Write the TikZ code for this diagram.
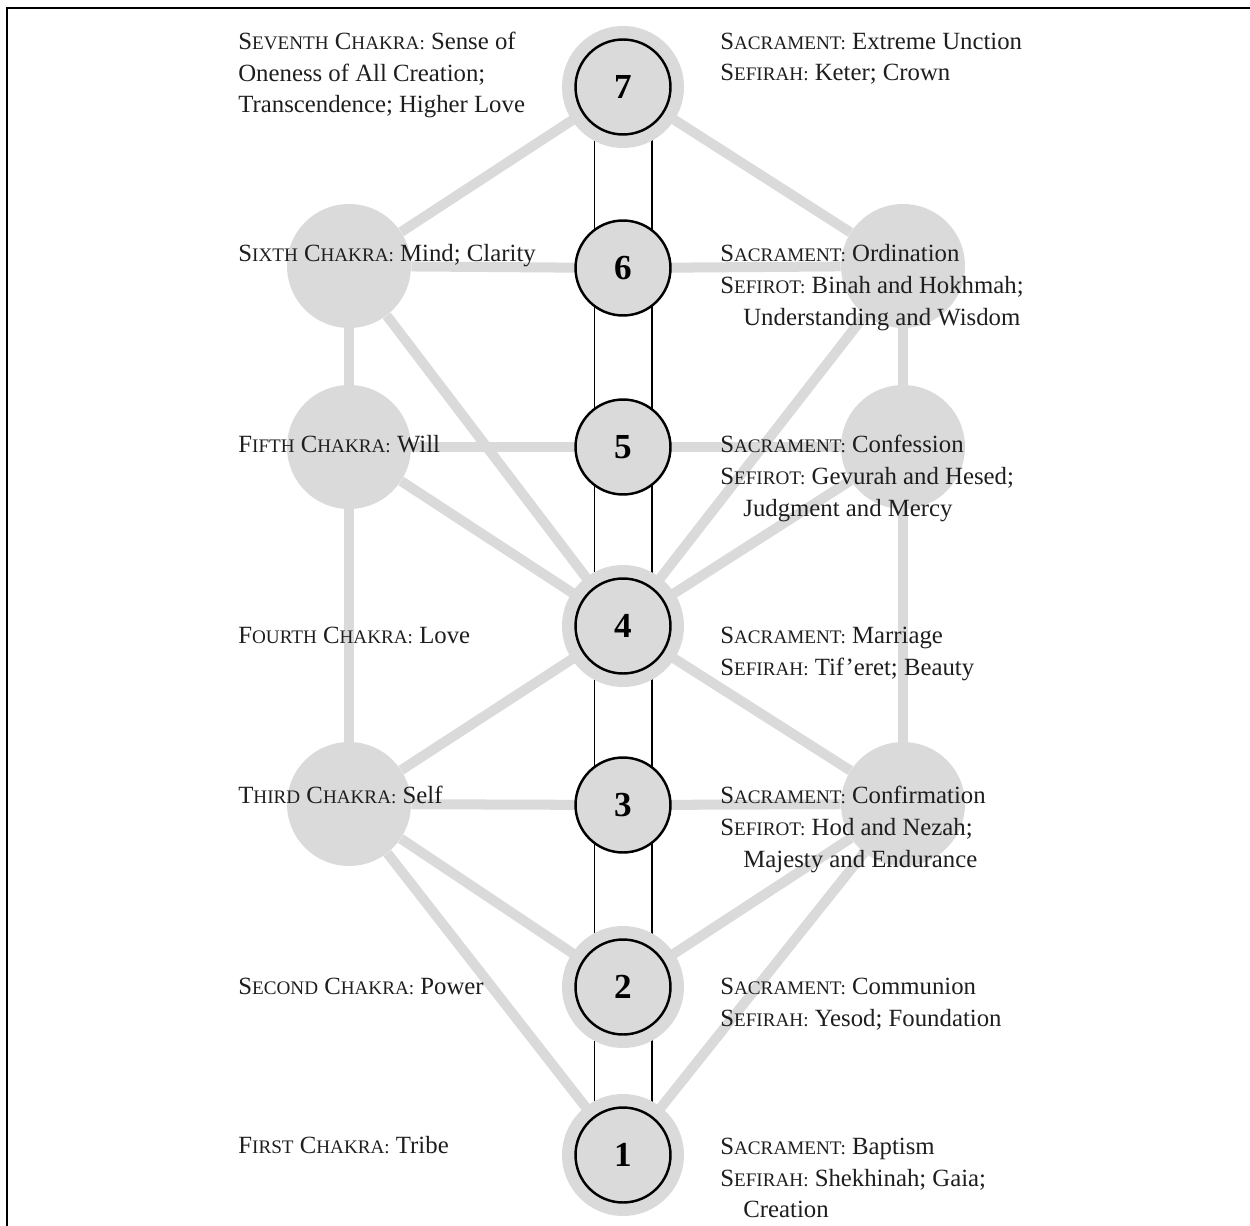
\documentclass[tikz,border=0pt]{standalone}
\usepackage{fontspec}
\setmainfont{Liberation Serif}
\definecolor{gr}{HTML}{DADADA}
\definecolor{ink}{HTML}{1E1E1E}
\newcommand\sk[2]{#1{\fontsize{10.9}{12}\selectfont #2}}
\tikzset{
  conn/.style={draw=gr, line width=5.7pt},
  side/.style={circle, fill=gr, minimum size=2.48cm, inner sep=0pt},
  ring/.style={circle, fill=gr, minimum size=2.44cm, inner sep=0pt},
  core/.style={circle, fill=gr, draw=black, line width=1.4pt, minimum size=1.9cm, inner sep=0pt,
    font=\fontsize{20}{22}\selectfont\bfseries},
  rail/.style={draw=black, line width=1.1pt},
  lab/.style={anchor=base west, inner sep=0pt, text=ink, font=\fontsize{14.1}{16}\selectfont},
  frame/.style={draw=black, line width=1.7pt}
}
\begin{document}
\begin{tikzpicture}[x=0.02cm, y=-0.02cm]
\useasboundingbox (0,0) rectangle (1250,1226);
\coordinate (ftl) at (7,8);
\coordinate (ftr) at (1250,8);
\coordinate (fbl) at (7,1226);
\draw[frame] (ftr) -- (ftl) -- (fbl);

% side circles
\node[side] (l6) at (349,266) {};
\node[side] (l5) at (349,447) {};
\node[side] (l3) at (349,804) {};
\node[side] (r6) at (903,266) {};
\node[side] (r5) at (903,447) {};
\node[side] (r3) at (903,804) {};

% central positions
\coordinate (p7) at (623,87);
\coordinate (p6) at (623,268);
\coordinate (p5) at (623,447);
\coordinate (p4) at (623,626);
\coordinate (p3) at (623,805);
\coordinate (p2) at (623,987);
\coordinate (p1) at (623,1155);

% grey connectors
\foreach \a/\b in {p7/l6, p7/r6, l6/l5, l5/l3, r6/r5, r5/r3,
  l6/p6, p6/r6, l5/p5, p5/r5, l3/p3, p3/r3,
  l6/p4, l5/p4, r6/p4, r5/p4, p4/l3, p4/r3,
  l3/p2, r3/p2, l3/p1, r3/p1}
  \draw[conn] (\a) -- (\b);

% rails
\draw[rail] ([xshift=-0.57cm]p7) -- ([xshift=-0.57cm]p1);
\draw[rail] ([xshift=0.58cm]p7) -- ([xshift=0.58cm]p1);

% central circles
\node[ring] (g7) at (p7) {};
\node[ring] (g4) at (p4) {};
\node[ring] (g2) at (p2) {};
\node[ring] (g1) at (p1) {};
\node[core] (n7) at (p7) {7};
\node[core] (n6) at (p6) {6};
\node[core] (n5) at (p5) {5};
\node[core] (n4) at (p4) {4};
\node[core] (n3) at (p3) {3};
\node[core] (n2) at (p2) {2};
\node[core] (n1) at (p1) {1};

% left labels
\node[lab] (t7a) at (238,50) {\sk{S}{EVENTH} \sk{C}{HAKRA:} Sense of};
\node[lab] (t7b) at (238,82) {Oneness of All Creation;};
\node[lab] (t7c) at (238,113) {Transcendence; Higher Love};
\node[lab] (t6) at (238,262) {\sk{S}{IXTH} \sk{C}{HAKRA:} Mind; Clarity};
\node[lab] (t5) at (238,452) {\sk{F}{IFTH} \sk{C}{HAKRA:} Will};
\node[lab] (t4) at (238,643) {\sk{F}{OURTH} \sk{C}{HAKRA:} Love};
\node[lab] (t3) at (238,803) {\sk{T}{HIRD} \sk{C}{HAKRA:} Self};
\node[lab] (t2) at (238,994) {\sk{S}{ECOND} \sk{C}{HAKRA:} Power};
\node[lab] (t1) at (238,1153) {\sk{F}{IRST} \sk{C}{HAKRA:} Tribe};

% right labels
\node[lab] (s7a) at (720,50) {\sk{S}{ACRAMENT:} Extreme Unction};
\node[lab] (s7b) at (720,81) {\sk{S}{EFIRAH:} Keter; Crown};
\node[lab] (s6a) at (720,262) {\sk{S}{ACRAMENT:} Ordination};
\node[lab] (s6b) at (720,294) {\sk{S}{EFIROT:} Binah and Hokhmah;};
\node[lab] (s6c) at (743,326) {Understanding and Wisdom};
\node[lab] (s5a) at (720,452) {\sk{S}{ACRAMENT:} Confession};
\node[lab] (s5b) at (720,484) {\sk{S}{EFIROT:} Gevurah and Hesed;};
\node[lab] (s5c) at (743,516) {Judgment and Mercy};
\node[lab] (s4a) at (720,643) {\sk{S}{ACRAMENT:} Marriage};
\node[lab] (s4b) at (720,675) {\sk{S}{EFIRAH:} Tif'eret; Beauty};
\node[lab] (s3a) at (720,803) {\sk{S}{ACRAMENT:} Confirmation};
\node[lab] (s3b) at (720,835) {\sk{S}{EFIROT:} Hod and Nezah;};
\node[lab] (s3c) at (743,867) {Majesty and Endurance};
\node[lab] (s2a) at (720,994) {\sk{S}{ACRAMENT:} Communion};
\node[lab] (s2b) at (720,1026) {\sk{S}{EFIRAH:} Yesod; Foundation};
\node[lab] (s1a) at (720,1154) {\sk{S}{ACRAMENT:} Baptism};
\node[lab] (s1b) at (720,1186) {\sk{S}{EFIRAH:} Shekhinah; Gaia;};
\node[lab] (s1c) at (743,1217) {Creation};
\end{tikzpicture}
\end{document}
